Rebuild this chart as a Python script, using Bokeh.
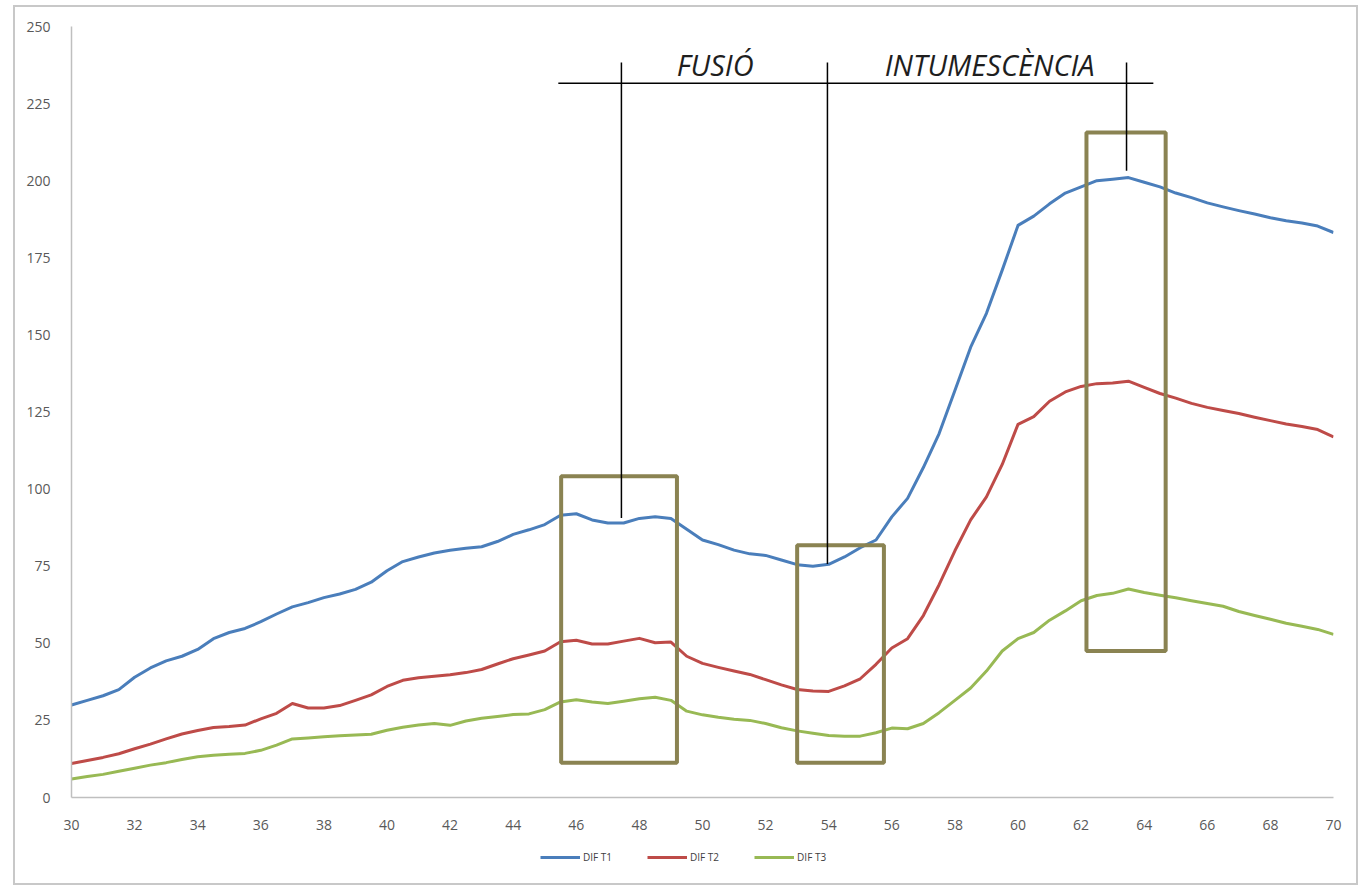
from bokeh.plotting import figure
from bokeh.layouts import column
from bokeh.models import Range1d, FixedTicker, Legend, LegendItem, InlineStyleSheet
from bokeh.core.properties import value
from bokeh.embed import file_html
from bokeh.resources import INLINE

# Time axis (minutes), sampled every half minute
t = [30 + 0.5 * i for i in range(81)]

dif_t1 = [30.0, 31.5, 33.0, 35.0, 39.0, 42.0, 44.3, 45.8, 48.0, 51.5,
          53.5, 54.8, 57.0, 59.5, 61.8, 63.2, 64.8, 66.0, 67.5, 69.8,
          73.5, 76.5, 78.0, 79.3, 80.2, 80.8, 81.3, 83.0, 85.3, 86.8,
          88.5, 91.5, 92.0, 90.0, 89.0, 89.0, 90.5, 91.0, 90.5, 87.0,
          83.5, 82.0, 80.2, 79.0, 78.5, 77.0, 75.5, 75.0, 75.6, 78.0,
          81.0, 83.5, 91.0, 97.0, 107.0, 118.0, 132.0, 146.0, 157.0, 171.0,
          185.5, 188.5, 192.5, 196.0, 198.0, 200.0, 200.5, 201.0, 199.5, 198.0,
          196.0, 194.5, 192.8, 191.5, 190.3, 189.2, 188.0, 187.0, 186.3, 185.3,
          183.2]

dif_t2 = [11.0, 12.0, 13.0, 14.2, 15.8, 17.3, 19.0, 20.6, 21.7, 22.7,
          23.0, 23.5, 25.5, 27.3, 30.5, 29.0, 29.0, 29.8, 31.5, 33.3,
          36.0, 38.0, 38.8, 39.3, 39.8, 40.5, 41.5, 43.3, 45.0, 46.2,
          47.5, 50.5, 51.0, 49.8, 49.8, 50.7, 51.6, 50.2, 50.4, 45.8,
          43.5, 42.2, 41.0, 39.9, 38.2, 36.5, 35.0, 34.5, 34.4, 36.2,
          38.5, 43.2, 48.5, 51.5, 59.0, 69.0, 80.0, 90.0, 97.5, 108.0,
          121.0, 123.5, 128.5, 131.5, 133.3, 134.2, 134.4, 135.0, 133.0, 131.0,
          129.5, 127.8, 126.5, 125.5, 124.5, 123.3, 122.2, 121.1, 120.3, 119.3,
          116.9]

dif_t3 = [6.0, 6.8, 7.5, 8.5, 9.5, 10.5, 11.3, 12.3, 13.2, 13.7,
          14.0, 14.3, 15.3, 17.0, 19.0, 19.3, 19.7, 20.0, 20.3, 20.5,
          21.8, 22.8, 23.5, 24.0, 23.4, 24.8, 25.7, 26.3, 26.9, 27.1,
          28.5, 31.0, 31.7, 31.0, 30.5, 31.2, 32.0, 32.5, 31.5, 28.0,
          26.8, 26.0, 25.4, 25.0, 24.0, 22.6, 21.6, 20.8, 20.1, 19.9,
          19.9, 21.0, 22.5, 22.3, 24.0, 27.5, 31.5, 35.5, 41.0, 47.5,
          51.5, 53.5, 57.5, 60.5, 63.8, 65.5, 66.2, 67.6, 66.5, 65.6,
          64.8, 63.8, 62.9, 62.0, 60.3, 59.0, 57.8, 56.5, 55.5, 54.5,
          52.9]

series_names = ["DIF T1", "DIF T2", "DIF T3"]
series_colors = ["#4A7EBB", "#BE4B48", "#98B954"]

x_ticks = list(range(30, 71, 2))
y_ticks = list(range(0, 251, 25))

# Highlight boxes around the phase regions
box_left = [45.52, 53.0, 62.17]
box_right = [49.19, 55.75, 64.68]
box_bottom = [11.3, 11.3, 47.5]
box_top = [104.2, 81.8, 215.6]

# Phase bracket: one horizontal bar and three drop lines
bar_x0, bar_x1, bar_y = 45.43, 64.29, 231.6
drop_x = [47.43, 53.96, 63.44]
drop_top = [238.3, 238.3, 238.3]
drop_bottom = [90.6, 75.7, 203.2]

phase_labels = ["FUSIÓ", "INTUMESCÈNCIA"]
phase_x = [50.4, 59.1]
phase_y = [237.6, 237.6]

W = 1361
MAIN_H = 836
LEG_H = 52

p = figure(width=W, height=MAIN_H, output_backend="svg", toolbar_location=None,
           x_range=Range1d(30, 70), y_range=Range1d(0, 250),
           min_border_left=71, min_border_right=28, min_border_top=26,
           min_border_bottom=MAIN_H - 797)

p.background_fill_color = "white"
p.border_fill_color = "white"
p.outline_line_color = None
p.xgrid.grid_line_color = None
p.ygrid.grid_line_color = None

for ax in (p.xaxis[0], p.yaxis[0]):
    ax.axis_line_color = "#bfbfbf"
    ax.axis_line_width = 1.5
    ax.major_tick_line_color = None
    ax.minor_tick_line_color = None
    ax.major_label_text_font = "Open Sans"
    ax.major_label_text_font_size = "14px"
    ax.major_label_text_color = "#595959"

p.xaxis[0].ticker = FixedTicker(ticks=x_ticks)
p.yaxis[0].ticker = FixedTicker(ticks=y_ticks)
p.xaxis[0].major_label_standoff = 16
p.yaxis[0].major_label_standoff = 15

for ys, c in zip([dif_t1, dif_t2, dif_t3], series_colors):
    p.line(t, ys, line_color=c, line_width=3, line_join="round")

p.quad(left=box_left, right=box_right, bottom=box_bottom, top=box_top,
       fill_color=None, line_color="#8A8352", line_width=4)

p.segment(x0=[bar_x0], y0=[bar_y], x1=[bar_x1], y1=[bar_y],
          line_color="black", line_width=1.5)
p.segment(x0=drop_x, y0=drop_top, x1=drop_x, y1=drop_bottom,
          line_color="black", line_width=1.5)

p.text(x=phase_x, y=phase_y, text=phase_labels,
       text_font=value("Open Sans"), text_font_style="italic",
       text_font_size="29px", text_align="center",
       text_baseline="alphabetic", text_color="#1e1e1e")

# Legend strip under the chart; its line renderers sit outside the visible range
leg = figure(width=W, height=LEG_H, output_backend="svg", toolbar_location=None,
             x_range=Range1d(0, 1), y_range=Range1d(0, 1),
             min_border=0, x_axis_type=None, y_axis_type=None)
leg.outline_line_color = None
leg.xgrid.grid_line_color = None
leg.ygrid.grid_line_color = None
leg.background_fill_color = "white"
leg.border_fill_color = "white"

leg_renderers = [leg.line(x=[-2, -1], y=[-2, -1], line_color=c, line_width=3)
                 for c in series_colors]

legend = Legend(
    items=[LegendItem(label=n, renderers=[r]) for n, r in zip(series_names, leg_renderers)],
    orientation="horizontal", location=(469, 24),
    glyph_width=40, glyph_height=14, label_height=14,
    label_standoff=3, spacing=35, padding=0, margin=0,
    label_text_font="Open Sans", label_text_font_size="10px",
    label_text_color="#404040",
    border_line_color=None, background_fill_alpha=0,
)
leg.add_layout(legend, "center")

page = column(p, leg, spacing=0)
page.stylesheets = [InlineStyleSheet(css="""
:host::after {
  content: "";
  position: absolute;
  left: 13px; top: 5px; right: 3px; bottom: 3px;
  border: 2px solid #c8c8c8;
  pointer-events: none;
}
""")]

open("out.html", "w").write(file_html(page, INLINE))
